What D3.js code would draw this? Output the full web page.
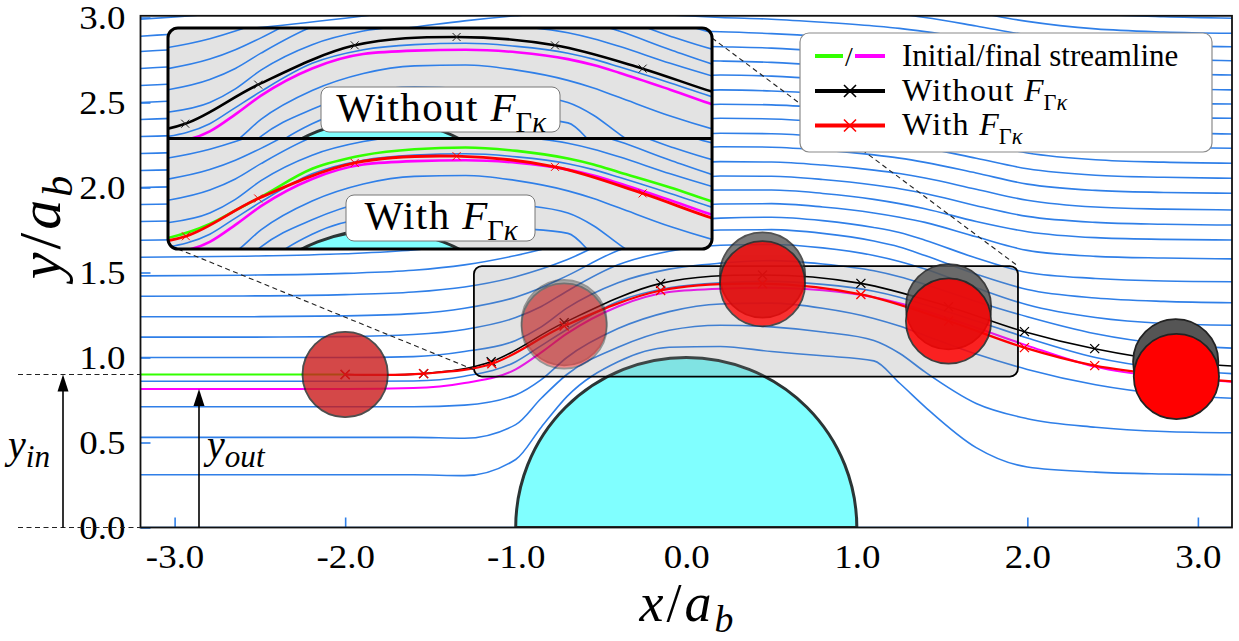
<!DOCTYPE html>
<html>
<head>
<meta charset="utf-8">
<script src="https://cdn.jsdelivr.net/npm/d3@7"></script>
<style>
  html, body { margin: 0; padding: 0; background: #ffffff; }
  svg { display: block; }
  text { font-family: "Liberation Serif", "Times New Roman", serif; fill: #000; }
</style>
</head>
<body>
<svg id="chart" width="1239" height="641"></svg>
<script>
// ---------------- data ----------------
// x stations shared by every streamline (in units of a_b)
const stationX = [-3.2, -2.6, -2.0, -1.6, -1.3, -1.0, -0.85, -0.7, -0.4, -0.1, 0.2, 0.5, 0.8, 1.1, 1.25, 1.4, 1.7, 2.0, 2.4, 2.8, 3.2];

// streamline heights y/a_b at each station
const sl00 = [0,0,0,0,0,0,0,0,0,0,0,0,0,0,0,0,0,0,0,0,0];
const sl01 = [0.31,0.31,0.31,0.31,0.305,0.40,0.59,0.77,0.975,1.06,1.065,1.035,1.01,0.98,0.85,0.71,0.47,0.356,0.326,0.315,0.31];
const sl02 = [0.53,0.53,0.53,0.53,0.525,0.605,0.76,0.90,1.06,1.16,1.19,1.18,1.15,1.10,1.025,0.915,0.73,0.64,0.59,0.565,0.557];
const sl03 = [0.71,0.71,0.71,0.71,0.72,0.78,0.87,1.0,1.17,1.27,1.315,1.32,1.29,1.23,1.185,1.13,1.02,0.93,0.84,0.785,0.76];
const sl04 = [0.86,0.86,0.86,0.862,0.89,0.975,1.07,1.165,1.33,1.41,1.44,1.448,1.43,1.39,1.355,1.31,1.215,1.115,1.0,0.935,0.905];
const sl05 = [1.0,1.0,1.0,1.005,1.035,1.10,1.18,1.29,1.44,1.52,1.555,1.57,1.55,1.51,1.475,1.43,1.33,1.24,1.14,1.08,1.055];
const sl06 = [1.12,1.12,1.123,1.135,1.165,1.235,1.30,1.39,1.545,1.625,1.66,1.665,1.645,1.60,1.565,1.52,1.41,1.31,1.235,1.20,1.19];
const sl07 = [1.24,1.24,1.245,1.258,1.29,1.355,1.41,1.48,1.63,1.715,1.75,1.752,1.73,1.685,1.65,1.60,1.49,1.40,1.35,1.33,1.322];
const sl08 = [1.36,1.362,1.37,1.385,1.415,1.475,1.52,1.575,1.71,1.79,1.82,1.825,1.805,1.765,1.735,1.69,1.585,1.50,1.465,1.45,1.446];
const sl09 = [1.48,1.484,1.495,1.513,1.545,1.60,1.635,1.675,1.79,1.87,1.903,1.905,1.885,1.85,1.825,1.795,1.71,1.63,1.595,1.585,1.58];
const sl10 = [1.59,1.596,1.61,1.632,1.665,1.715,1.745,1.775,1.87,1.95,1.985,1.985,1.965,1.93,1.905,1.875,1.80,1.74,1.705,1.695,1.691];
const sl11 = [1.69,1.698,1.716,1.742,1.776,1.822,1.848,1.875,1.955,2.03,2.068,2.066,2.047,2.015,1.993,1.965,1.893,1.83,1.795,1.784,1.779];
const sl12 = [1.80,1.81,1.831,1.86,1.895,1.938,1.962,1.985,2.05,2.115,2.152,2.15,2.132,2.102,2.082,2.056,1.99,1.925,1.885,1.873,1.868];
const sl13 = [1.90,1.912,1.937,1.968,2.003,2.043,2.065,2.085,2.14,2.2,2.24,2.237,2.22,2.192,2.173,2.148,2.085,2.02,1.983,1.971,1.966];
const sl14 = [2.0,2.014,2.043,2.076,2.11,2.148,2.168,2.185,2.232,2.285,2.319,2.316,2.3,2.274,2.256,2.233,2.172,2.11,2.072,2.06,2.054];
const sl15 = [2.1,2.117,2.15,2.185,2.22,2.255,2.273,2.288,2.328,2.375,2.407,2.403,2.387,2.362,2.345,2.322,2.263,2.203,2.163,2.149,2.143];
const sl16 = [2.2,2.22,2.257,2.294,2.328,2.362,2.378,2.392,2.425,2.463,2.49,2.486,2.47,2.446,2.43,2.408,2.352,2.293,2.253,2.238,2.231];
const sl17 = [2.3,2.323,2.364,2.403,2.437,2.469,2.483,2.496,2.523,2.553,2.574,2.568,2.552,2.528,2.512,2.491,2.437,2.38,2.34,2.323,2.315];
const sl18 = [2.4,2.426,2.471,2.511,2.545,2.575,2.588,2.6,2.622,2.645,2.662,2.655,2.638,2.614,2.599,2.578,2.526,2.472,2.43,2.414,2.407];
const sl19 = [2.5,2.529,2.578,2.619,2.653,2.70,2.715,2.728,2.745,2.748,2.744,2.736,2.719,2.696,2.682,2.662,2.612,2.558,2.515,2.498,2.491];
const sl20 = [2.6,2.632,2.684,2.726,2.76,2.81,2.825,2.835,2.838,2.834,2.828,2.82,2.803,2.78,2.766,2.746,2.697,2.643,2.6,2.582,2.574];
const sl21 = [2.7,2.735,2.79,2.833,2.867,2.92,2.935,2.94,2.935,2.925,2.916,2.905,2.888,2.865,2.851,2.832,2.783,2.73,2.688,2.67,2.662];
const sl22 = [2.8,2.838,2.897,2.943,2.98,3.01,3.022,3.028,3.028,3.015,3.0,2.99,2.972,2.95,2.936,2.917,2.868,2.815,2.772,2.754,2.746];
const sl23 = [2.89,2.932,2.996,3.045,3.085,3.115,3.125,3.13,3.128,3.11,3.085,3.075,3.057,3.034,3.02,3.0,2.95,2.897,2.854,2.836,2.828];
const sl24 = [2.99,3.036,3.104,3.155,3.195,3.225,3.235,3.24,3.237,3.2,3.165,3.155,3.137,3.114,3.1,3.08,3.03,2.977,2.933,2.915,2.907];
const sl25 = [3.09,3.14,3.21,3.26,3.3,3.33,3.34,3.345,3.34,3.3,3.255,3.245,3.227,3.204,3.19,3.17,3.12,3.066,3.022,3.004,2.996];

// streamline through y_in (initial) and through y_out (final)
const initialStreamline = [0.90,0.90,0.90,0.905,0.94,1.035,1.115,1.195,1.36,1.44,1.475,1.485,1.465,1.42,1.385,1.34,1.25,1.15,1.05,0.985,0.95];
const finalStreamline   = [0.815,0.815,0.815,0.82,0.85,0.93,1.03,1.14,1.30,1.385,1.405,1.41,1.395,1.355,1.32,1.275,1.175,1.07,0.945,0.885,0.858];

// particle trajectory samples
const withoutX = [-2.0, -1.54, -1.144, -0.716, -0.15, 0.447, 1.024, 1.538, 1.983, 2.395, 2.87];
const withoutY = [0.90, 0.905, 0.975, 1.205, 1.436, 1.485, 1.436, 1.299, 1.152, 1.052, 0.975];
const withX    = [-2.0, -1.54, -1.14, -0.716, -0.15, 0.447, 1.024, 1.538, 1.983, 2.395, 2.874];
const withY    = [0.90, 0.905, 0.963, 1.185, 1.394, 1.434, 1.371, 1.215, 1.058, 0.952, 0.888];
const withoutTail = [3.2, 0.95];
const withTail    = [3.2, 0.86];

// samples at which the particle is drawn
const particleSteps = [0, 3, 5, 7, 10];
const particleRadius = 0.25;
const cylinderRadius = 1.0;

// zoomed window shown in the inset
const zoomWindowX = [-1.245, 1.945];
const zoomWindowY = [0.888, 1.538];

// axis ticks
const xTicks = [-3, -2, -1, 0, 1, 2, 3];
const yTicks = [0, 0.5, 1.0, 1.5, 2.0, 2.5, 3.0];

// ---------------- drawing ----------------
const streamlines = [sl00, sl01, sl02, sl03, sl04, sl05, sl06, sl07, sl08, sl09, sl10, sl11, sl12,
                     sl13, sl14, sl15, sl16, sl17, sl18, sl19, sl20, sl21, sl22, sl23, sl24, sl25];

const svg = d3.select("#chart");
const plot = { left: 140.5, right: 1232, top: 15.8, bottom: 527.5 };
const x = d3.scaleLinear().domain([-3.2, 3.2]).range([plot.left, plot.right]);
const y = d3.scaleLinear().domain([0, 3.01]).range([plot.bottom, plot.top]);

const BLUE = "#2f7fe8";
const GREEN = "#33ff00";
const MAGENTA = "#ff00ff";
const RED = "#ff0000";
const particleAlpha = [0.55, 0.4, 0.78, 0.85, 1.0];

const fmt = v => d3.format(".1f")(v).replace("\u2212", "-");
const toPoints = ys => stationX.map((sx, i) => [sx, ys[i]]);
const smooth = d3.line().x(d => x(d[0])).y(d => y(d[1])).curve(d3.curveMonotoneX);
const traj = d3.line().x(d => x(d[0])).y(d => y(d[1])).curve(d3.curveCatmullRom.alpha(0.5));
const withoutPts = withoutX.map((v, i) => [v, withoutY[i]]);
const withPts = withX.map((v, i) => [v, withY[i]]);

const defs = svg.append("defs");
defs.append("clipPath").attr("id", "plotClip")
  .append("rect").attr("x", plot.left).attr("y", plot.top)
  .attr("width", plot.right - plot.left).attr("height", plot.bottom - plot.top);
defs.append("clipPath").attr("id", "upstreamClip")
  .append("rect").attr("x", plot.left).attr("y", plot.top)
  .attr("width", x(withoutX[0]) - plot.left).attr("height", plot.bottom - plot.top);

function crossMarker(g, pts, color, s, w) {
  g.selectAll(null).data(pts).join("path")
    .attr("d", d => `M${x(d[0]) - s},${y(d[1]) - s}L${x(d[0]) + s},${y(d[1]) + s}M${x(d[0]) - s},${y(d[1]) + s}L${x(d[0]) + s},${y(d[1]) - s}`)
    .attr("stroke", color).attr("stroke-width", w).attr("fill", "none");
}

function drawField(g) {
  g.selectAll(null).data(streamlines).join("path")
    .attr("d", d => smooth(toPoints(d)))
    .attr("fill", "none").attr("stroke", BLUE).attr("stroke-width", 1.6);
  const rx = x(cylinderRadius) - x(0), ry = y(0) - y(cylinderRadius);
  g.append("path")
    .attr("d", `M${x(-cylinderRadius)},${y(0)}A${rx},${ry} 0 0 1 ${x(cylinderRadius)},${y(0)}Z`)
    .attr("fill", "#80ffff").attr("stroke", "#2b3535").attr("stroke-width", 3);
}

function mathText(parent, px, py, size, parts, anchor, subShift) {
  const shift = subShift === undefined ? 0.28 : subShift;
  const t = parent.append("text").attr("x", px).attr("y", py)
    .attr("font-size", size).attr("text-anchor", anchor || "start");
  let inSub = false;
  parts.forEach(p => {
    const s = t.append("tspan").text(p.t);
    if (p.i) s.attr("font-style", "italic");
    if (p.sub) {
      s.attr("font-size", size * (p.scale || 0.7));
      if (!inSub) { s.attr("dy", size * shift); inSub = true; }
    } else if (inSub) { s.attr("dy", -size * shift); inSub = false; }
    if (p.ls) s.attr("letter-spacing", p.ls);
  });
  return t;
}

// axes (blue inward ticks)
const yAxis = svg.append("g").attr("transform", `translate(${plot.left},0)`)
  .call(d3.axisLeft(y).tickValues(yTicks).tickSize(-10).tickPadding(13.4).tickFormat(fmt));
const xAxis = svg.append("g").attr("transform", `translate(0,${plot.bottom})`)
  .call(d3.axisBottom(x).tickValues(xTicks).tickSize(-10).tickPadding(17).tickFormat(fmt));
[yAxis, xAxis].forEach(a => {
  a.select(".domain").remove();
  a.attr("font-family", null).attr("font-size", 33);
  a.selectAll(".tick line").attr("stroke", BLUE).attr("stroke-width", 1.6);
  a.selectAll(".tick text").attr("transform", "scale(1.12,1)").attr("fill", "#000");
});

// main panel
const main = svg.append("g").attr("clip-path", "url(#plotClip)");
drawField(main);

main.append("path").attr("d", smooth(toPoints(initialStreamline)))
  .attr("clip-path", "url(#upstreamClip)")
  .attr("fill", "none").attr("stroke", GREEN).attr("stroke-width", 2.2);
main.append("path").attr("d", smooth(toPoints(finalStreamline)))
  .attr("fill", "none").attr("stroke", MAGENTA).attr("stroke-width", 2);

// zoom window
const zx0 = x(zoomWindowX[0]), zx1 = x(zoomWindowX[1]);
const zy0 = y(zoomWindowY[1]), zy1 = y(zoomWindowY[0]);
main.append("rect").attr("x", zx0).attr("y", zy0).attr("width", zx1 - zx0).attr("height", zy1 - zy0)
  .attr("rx", 8).attr("fill", "#808080").attr("fill-opacity", 0.22)
  .attr("stroke", "#000").attr("stroke-width", 1.8);

main.append("path").attr("d", traj(withoutPts.concat([withoutTail])))
  .attr("fill", "none").attr("stroke", "#000").attr("stroke-width", 1.6);
crossMarker(main, withoutPts, "#000", 4.5, 1.3);
main.append("path").attr("d", traj(withPts.concat([withTail])))
  .attr("fill", "none").attr("stroke", RED).attr("stroke-width", 2.2);
crossMarker(main, withPts, RED, 4.5, 1.3);

const pr = x(particleRadius) - x(0);
particleSteps.forEach((k, j) => {
  main.append("circle").attr("cx", x(withoutX[k])).attr("cy", y(withoutY[k])).attr("r", pr)
    .attr("fill", "#555555").attr("stroke", "#222").attr("stroke-width", 1.8).attr("opacity", particleAlpha[j]);
  main.append("circle").attr("cx", x(withX[k])).attr("cy", y(withY[k])).attr("r", pr)
    .attr("fill", RED).attr("stroke", "#222").attr("stroke-width", 1.8).attr("opacity", particleAlpha[j]);
});

// frame
svg.append("rect").attr("x", plot.left).attr("y", plot.top)
  .attr("width", plot.right - plot.left).attr("height", plot.bottom - plot.top)
  .attr("fill", "none").attr("stroke", "#111").attr("stroke-width", 1.8);

// inset
const insetLeft = 168, insetTop = 28;
const pw = zx1 - zx0, ph = zy1 - zy0;
const dashStyle = s => s.attr("stroke", "#222").attr("stroke-width", 1.1).attr("stroke-dasharray", "5,3.5").attr("fill", "none");
svg.append("line").attr("x1", insetLeft + 10).attr("y1", insetTop + 2 * ph).attr("x2", zx0 + 2).attr("y2", zy1 - 6).call(dashStyle);
svg.append("line").attr("x1", insetLeft + pw).attr("y1", insetTop + 10).attr("x2", zx1).attr("y2", zy0).call(dashStyle);

const R = 10;
function topPanelPath(x0, y0, w, h, r) {
  return `M${x0},${y0 + h}V${y0 + r}A${r},${r} 0 0 1 ${x0 + r},${y0}H${x0 + w - r}A${r},${r} 0 0 1 ${x0 + w},${y0 + r}V${y0 + h}Z`;
}
function bottomPanelPath(x0, y0, w, h, r) {
  return `M${x0},${y0}H${x0 + w}V${y0 + h - r}A${r},${r} 0 0 1 ${x0 + w - r},${y0 + h}H${x0 + r}A${r},${r} 0 0 1 ${x0},${y0 + h - r}Z`;
}
defs.append("clipPath").attr("id", "panelTop").append("path").attr("d", topPanelPath(insetLeft, insetTop, pw, ph, R));
defs.append("clipPath").attr("id", "panelBottom").append("path").attr("d", bottomPanelPath(insetLeft, insetTop + ph, pw, ph, R));

function panel(clipId, top, drawExtras) {
  const g = svg.append("g").attr("clip-path", `url(#${clipId})`);
  g.append("rect").attr("x", insetLeft).attr("y", top).attr("width", pw).attr("height", ph).attr("fill", "#e3e3e3");
  const inner = g.append("g").attr("transform", `translate(${insetLeft - zx0},${top - zy0})`);
  drawField(inner);
  drawExtras(inner);
}
panel("panelTop", insetTop, g => {
  g.append("path").attr("d", smooth(toPoints(finalStreamline)))
    .attr("fill", "none").attr("stroke", MAGENTA).attr("stroke-width", 2.6);
  g.append("path").attr("d", traj(withoutPts.concat([withoutTail])))
    .attr("fill", "none").attr("stroke", "#000").attr("stroke-width", 2.6);
  crossMarker(g, withoutPts, "#222", 4, 1);
});
panel("panelBottom", insetTop + ph, g => {
  g.append("path").attr("d", smooth(toPoints(finalStreamline)))
    .attr("fill", "none").attr("stroke", MAGENTA).attr("stroke-width", 2.6);
  g.append("path").attr("d", smooth(toPoints(initialStreamline)))
    .attr("fill", "none").attr("stroke", GREEN).attr("stroke-width", 2.6);
  g.append("path").attr("d", traj(withPts.concat([withTail])))
    .attr("fill", "none").attr("stroke", RED).attr("stroke-width", 2.8);
  crossMarker(g, withPts, RED, 4, 1);
});
svg.append("rect").attr("x", insetLeft).attr("y", insetTop).attr("width", pw).attr("height", 2 * ph)
  .attr("rx", R).attr("fill", "none").attr("stroke", "#000").attr("stroke-width", 3);
svg.append("line").attr("x1", insetLeft).attr("x2", insetLeft + pw).attr("y1", insetTop + ph).attr("y2", insetTop + ph)
  .attr("stroke", "#000").attr("stroke-width", 3);

// inset captions
const labelX = insetLeft + pw * 0.502;
svg.append("rect").attr("x", 321).attr("y", 87).attr("width", 239).attr("height", 45).attr("rx", 8)
  .attr("fill", "#fff").attr("stroke", "#777").attr("stroke-width", 1);
mathText(svg, labelX, 121, 41, [{ t: "Without ", ls: 1.4 }, { t: "F", i: true }, { t: "\u0393", sub: true }, { t: "\u03BA", sub: true, i: true }], "middle");
svg.append("rect").attr("x", 346).attr("y", 195).attr("width", 189).attr("height", 46).attr("rx", 8)
  .attr("fill", "#fff").attr("stroke", "#777").attr("stroke-width", 1);
mathText(svg, labelX, 229, 41, [{ t: "With ", ls: 1.4 }, { t: "F", i: true }, { t: "\u0393", sub: true }, { t: "\u03BA", sub: true, i: true }], "middle");

// legend
const lg = svg.append("g");
lg.append("rect").attr("x", 800).attr("y", 33).attr("width", 412).attr("height", 119).attr("rx", 9)
  .attr("fill", "#fff").attr("stroke", "#8a8a8a").attr("stroke-width", 1.2);
lg.append("line").attr("x1", 815).attr("x2", 843).attr("y1", 56).attr("y2", 56).attr("stroke", GREEN).attr("stroke-width", 4);
lg.append("line").attr("x1", 855).attr("x2", 885).attr("y1", 56).attr("y2", 56).attr("stroke", MAGENTA).attr("stroke-width", 4);
lg.append("text").attr("x", 849).attr("y", 66).attr("font-size", 28).attr("text-anchor", "middle").text("/");
[[91, "#000"], [125.5, RED]].forEach(([ly, c]) => {
  lg.append("line").attr("x1", 815).attr("x2", 885).attr("y1", ly).attr("y2", ly).attr("stroke", c).attr("stroke-width", 4);
  lg.append("path").attr("d", `M844,${ly - 6}L856,${ly + 6}M844,${ly + 6}L856,${ly - 6}`).attr("stroke", c).attr("stroke-width", 1.6);
});
lg.append("text").attr("x", 902).attr("y", 66).attr("font-size", 31).text("Initial/final streamline");
mathText(lg, 902, 101, 32, [{ t: "Without ", ls: 1.3 }, { t: "F", i: true }, { t: "\u0393", sub: true }, { t: "\u03BA", sub: true, i: true }]);
mathText(lg, 902, 135, 32, [{ t: "With ", ls: 1.3 }, { t: "F", i: true }, { t: "\u0393", sub: true }, { t: "\u03BA", sub: true, i: true }]);

// y_in / y_out annotations
const yIn = initialStreamline[0], yOut = finalStreamline[0];
svg.append("line").attr("x1", 18).attr("x2", plot.left).attr("y1", y(yIn)).attr("y2", y(yIn)).call(dashStyle);
svg.append("line").attr("x1", 18).attr("x2", plot.left).attr("y1", y(0)).attr("y2", y(0)).call(dashStyle);
function upArrow(ax, yTop) {
  svg.append("line").attr("x1", ax).attr("x2", ax).attr("y1", y(0)).attr("y2", y(yTop) + 14)
    .attr("stroke", "#000").attr("stroke-width", 1.6);
  svg.append("path").attr("d", `M${ax},${y(yTop)}L${ax - 5.5},${y(yTop) + 17}L${ax + 5.5},${y(yTop) + 17}Z`).attr("fill", "#000");
}
upArrow(63, yIn);
upArrow(x(-2.857), yOut);
mathText(svg, 8, 458, 40, [{ t: "y", i: true }, { t: "in", i: true, sub: true, scale: 0.78 }], "start", 0.22);
mathText(svg, 207, 458, 40, [{ t: "y", i: true }, { t: "out", i: true, sub: true, scale: 0.78 }], "start", 0.22);

// axis titles
mathText(svg, 688, 621, 54, [{ t: "x", i: true }, { t: "/", ls: 3 }, { t: "a", i: true }, { t: "b", i: true, sub: true }], "middle", 0.2)
  .attr("letter-spacing", 3);
mathText(svg, 0, 0, 60, [{ t: "y", i: true }, { t: "/", ls: 3 }, { t: "a", i: true }, { t: "b", i: true, sub: true }], "middle", 0.2)
  .attr("letter-spacing", 3)
  .attr("transform", "translate(60,226) rotate(-90)");
</script>
</body>
</html>
